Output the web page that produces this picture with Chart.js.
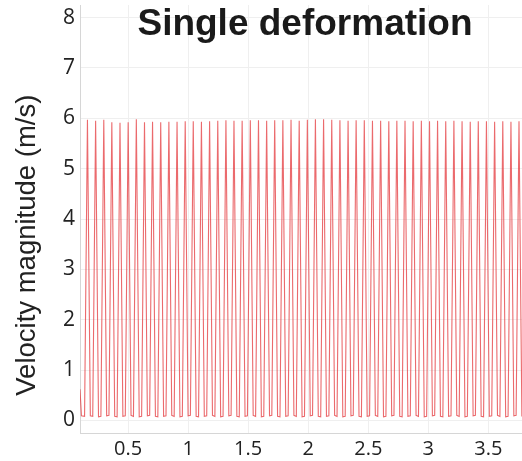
<!DOCTYPE html>
<html>
<head>
<meta charset="utf-8">
<script src="https://cdn.jsdelivr.net/npm/chart.js@4"></script>
<style>
  html, body { margin: 0; padding: 0; background: #fff; }
  #wrap { width: 522px; height: 461px; }
</style>
</head>
<body>
<div id="wrap"><canvas id="velocity"></canvas></div>
<script>
// time (s) and velocity magnitude (m/s): trough, peak, trough per spike
var times = [
    0.100, 0.112,
    0.138, 0.162, 0.186,  0.206, 0.230, 0.254,  0.274, 0.298, 0.322,  0.341, 0.365, 0.389,
    0.409, 0.433, 0.457,  0.477, 0.501, 0.525,  0.545, 0.569, 0.593,  0.613, 0.637, 0.661,
    0.680, 0.704, 0.728,  0.748, 0.772, 0.796,  0.816, 0.840, 0.864,  0.884, 0.908, 0.932,
    0.952, 0.976, 1.000,  1.019, 1.043, 1.067,  1.087, 1.111, 1.135,  1.155, 1.179, 1.203,
    1.223, 1.247, 1.271,  1.291, 1.315, 1.339,  1.358, 1.382, 1.406,  1.426, 1.450, 1.474,
    1.494, 1.518, 1.542,  1.562, 1.586, 1.610,  1.630, 1.654, 1.678,  1.697, 1.721, 1.745,
    1.765, 1.789, 1.813,  1.833, 1.857, 1.881,  1.901, 1.925, 1.949,  1.969, 1.993, 2.017,
    2.036, 2.060, 2.084,  2.104, 2.128, 2.152,  2.172, 2.196, 2.220,  2.240, 2.264, 2.288,
    2.308, 2.332, 2.356,  2.375, 2.399, 2.423,  2.443, 2.467, 2.491,  2.511, 2.535, 2.559,
    2.579, 2.603, 2.627,  2.647, 2.671, 2.695,  2.714, 2.738, 2.762,  2.782, 2.806, 2.830,
    2.850, 2.874, 2.898,  2.918, 2.942, 2.966,  2.986, 3.010, 3.034,  3.053, 3.077, 3.101,
    3.121, 3.145, 3.169,  3.189, 3.213, 3.237,  3.257, 3.281, 3.305,  3.325, 3.349, 3.373,
    3.392, 3.416, 3.440,  3.460, 3.484, 3.508,  3.528, 3.552, 3.576,  3.596, 3.620, 3.644,
    3.664, 3.688, 3.712,  3.731, 3.755, 3.779
];
var velocity = [
    0.62, 0.09,
    0.08, 5.97, 0.09,  0.08, 5.95, 0.07,  0.08, 5.97, 0.09,  0.10, 5.92, 0.08,
    0.07, 5.91, 0.08,  0.09, 5.92, 0.10,  0.08, 5.98, 0.07,  0.08, 5.92, 0.09,
    0.10, 5.93, 0.08,  0.07, 5.92, 0.08,  0.09, 5.93, 0.10,  0.08, 5.93, 0.07,
    0.08, 5.94, 0.09,  0.10, 5.94, 0.08,  0.07, 5.93, 0.08,  0.09, 5.94, 0.10,
    0.08, 5.95, 0.07,  0.08, 5.96, 0.09,  0.10, 5.95, 0.08,  0.07, 5.95, 0.08,
    0.09, 5.96, 0.10,  0.08, 5.96, 0.07,  0.08, 5.95, 0.09,  0.10, 5.96, 0.08,
    0.07, 5.96, 0.08,  0.09, 5.97, 0.10,  0.08, 5.95, 0.07,  0.08, 5.97, 0.09,
    0.10, 5.98, 0.08,  0.07, 5.98, 0.08,  0.09, 5.97, 0.10,  0.08, 5.96, 0.07,
    0.08, 5.95, 0.09,  0.10, 5.96, 0.08,  0.07, 5.96, 0.08,  0.09, 5.95, 0.10,
    0.08, 5.95, 0.07,  0.08, 5.94, 0.09,  0.10, 5.95, 0.08,  0.07, 5.95, 0.08,
    0.09, 5.94, 0.10,  0.08, 5.95, 0.07,  0.08, 5.94, 0.09,  0.10, 5.95, 0.08,
    0.07, 5.94, 0.08,  0.09, 5.95, 0.10,  0.08, 5.94, 0.07,  0.08, 5.93, 0.09,
    0.10, 5.94, 0.08,  0.07, 5.94, 0.08,  0.09, 5.93, 0.10,  0.08, 5.94, 0.07,
    0.08, 5.93, 0.09,  0.10, 5.94, 0.08
];
var xTickValues = [0.5, 1, 1.5, 2, 2.5, 3, 3.5];
var yTickValues = [0, 1, 2, 3, 4, 5, 6, 7, 8];

var chartTitle = 'Single deformation';
var yTitle = 'Velocity magnitude (m/s)';

// title sits inside the plot, y label is placed a bit below centre like the original
var overlayText = {
    id: 'overlayText',
    afterDraw: function (chart) {
        var ctx = chart.ctx;
        var area = chart.chartArea;
        ctx.save();
        ctx.fillStyle = '#1a1a1a';
        ctx.font = 'bold 37px "Liberation Sans", Arial, sans-serif';
        ctx.textAlign = 'center';
        ctx.textBaseline = 'alphabetic';
        ctx.fillText(chartTitle, (area.left + area.right) / 2 + 4, area.top + 30);

        ctx.translate(35, chart.scales.y.getPixelForValue(3.48));
        ctx.rotate(-Math.PI / 2);
        ctx.fillStyle = '#222';
        ctx.font = '27.5px "Liberation Sans", Arial, sans-serif';
        ctx.textAlign = 'center';
        ctx.fillText(yTitle, 0, 0);
        ctx.restore();
    }
};

var points = times.map(function (t, i) {
    return { x: t, y: velocity[i] };
});

new Chart(document.getElementById('velocity').getContext('2d'), {
    type: 'line',
    data: {
        datasets: [{
            label: 'Velocity magnitude',
            data: points,
            borderColor: 'rgba(228, 56, 60, 0.75)',
            borderWidth: 1.1,
            pointRadius: 0,
            tension: 0,
            fill: false
        }]
    },
    options: {
        responsive: true,
        maintainAspectRatio: false,
        animation: false,
        layout: {
            padding: { top: 5, right: 0, bottom: 0, left: 0 }
        },
        plugins: {
            legend: { display: false },
            tooltip: { enabled: false }
        },
        scales: {
            x: {
                type: 'linear',
                min: 0.1,
                max: 3.78,
                afterBuildTicks: function (scale) {
                    scale.ticks = xTickValues.map(function (v) { return { value: v }; });
                },
                afterFit: function (scale) {
                    scale.height = 28;
                    scale.paddingLeft = 0;
                    scale.paddingRight = 0;
                },
                grid: {
                    color: '#efefef',
                    drawTicks: false
                },
                border: { color: '#d6d6d6' },
                ticks: {
                    padding: 4,
                    maxRotation: 0,
                    color: '#222',
                    font: { family: '"Open Sans", sans-serif', size: 20 },
                    callback: function (value) { return String(value); }
                }
            },
            y: {
                min: -0.25,
                max: 8.25,
                afterBuildTicks: function (scale) {
                    scale.ticks = yTickValues.map(function (v) { return { value: v }; });
                },
                afterFit: function (scale) {
                    scale.width = 80;
                    scale.paddingTop = 0;
                    scale.paddingBottom = 0;
                },
                grid: {
                    color: '#efefef',
                    drawTicks: false
                },
                border: { color: '#d6d6d6' },
                ticks: {
                    padding: 5,
                    color: '#222',
                    font: { family: '"Open Sans", sans-serif', size: 21 }
                }
            }
        }
    },
    plugins: [overlayText]
});
</script>
</body>
</html>
